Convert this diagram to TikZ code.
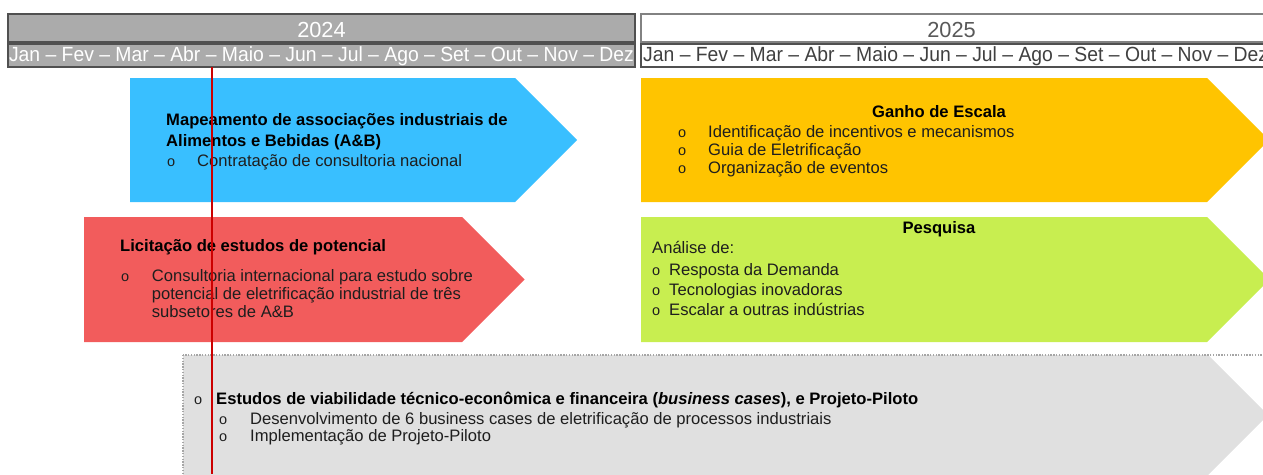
\documentclass[tikz,border=0pt]{standalone}
\usepackage{fontspec}
\setmainfont{Liberation Sans}
\newfontfamily\monthfont[FakeStretch=0.944]{Liberation Sans}
\definecolor{hdrgray}{RGB}{171,171,171}
\definecolor{hdrborder}{RGB}{80,80,80}
\definecolor{yrborder}{RGB}{130,130,130}
\definecolor{yrtext}{RGB}{89,89,89}
\definecolor{mtext}{RGB}{64,64,64}
\definecolor{cblue}{RGB}{57,191,255}
\definecolor{cred}{RGB}{242,92,92}
\definecolor{cyellow}{RGB}{255,196,0}
\definecolor{cgreen}{RGB}{200,238,80}
\definecolor{cgray}{RGB}{224,224,224}
\definecolor{dotgray}{RGB}{166,166,166}
\definecolor{bodytext}{RGB}{30,30,30}
\definecolor{markred}{RGB}{204,0,0}
\begin{document}
\begin{tikzpicture}[x=1pt,y=-1pt,
  yeartxt/.style={anchor=base,inner sep=0pt,font=\fontsize{21.8}{22}\selectfont},
  monthtxt/.style={inner sep=0pt,font=\monthfont\fontsize{20.5}{21}\selectfont},
  body/.style={anchor=base west,inner sep=0pt,text=bodytext,font=\fontsize{16.6}{19}\selectfont},
  title/.style={anchor=base west,inner sep=0pt,text=black,font=\fontsize{16.6}{19}\selectfont\bfseries},
  ctitle/.style={title,anchor=base},
  bul/.style={anchor=base west,inner sep=0pt,text=bodytext,font=\fontsize{14.5}{15}\selectfont},
  marker/.style={draw=markred,line width=2pt}
]
\useasboundingbox (0,0) rectangle (1263,474);
\clip (0,0) rectangle (1263,474);

% ---------- header 2024 ----------
\draw[draw=hdrborder,fill=hdrgray,line width=1.2pt] (8,14) rectangle (635,42);
\node[yeartxt,text=white] (y2024) at (321.5,37.3) {2024};
\draw[draw=hdrborder,fill=hdrgray,line width=1.2pt] (8,44) rectangle (635,67);
\node[monthtxt,anchor=base,text=white] (m2024) at (321.5,61.7) {Jan – Fev – Mar – Abr – Maio – Jun – Jul – Ago – Set – Out – Nov – Dez};

% ---------- header 2025 ----------
\draw[draw=yrborder,fill=white,line width=1.2pt] (641,14) rectangle (1275,42);
\node[yeartxt,text=yrtext] (y2025) at (951.5,37.3) {2025};
\draw[draw=hdrborder,fill=white,line width=1.2pt] (641,44) rectangle (1275,67);
\node[monthtxt,anchor=base west,text=mtext] (m2025) at (643,61.7) {Jan – Fev – Mar – Abr – Maio – Jun – Jul – Ago – Set – Out – Nov – Dez};

% ---------- chevrons ----------
\fill[cblue]   (130,78)  -- (515,78)  -- (577,140)    -- (515,202)  -- (130,202) -- cycle;
\fill[cred]    (84,217)  -- (462,217) -- (524.5,279.5) -- (462,342) -- (84,342)  -- cycle;
\fill[cyellow] (641,78)  -- (1207,78) -- (1269,140)   -- (1207,202) -- (641,202) -- cycle;
\fill[cgreen]  (641,217) -- (1207,217) -- (1269.5,279.5) -- (1207,342) -- (641,342) -- cycle;
\fill[cgray]   (183,355) -- (1208,355) -- (1268,415)  -- (1208,475) -- (183,475) -- cycle;
\draw[dotgray,line width=1.4pt,dash pattern=on 1.4pt off 1.4pt] (183,355) rectangle (1290,500);

% ---------- blue ----------
\node[title] (b1) at (166,125.7) {Mapeamento de associações industriais de};
\node[title] (b2) at (166,146) {Alimentos e Bebidas (A\&B)};
\node[bul] (bb1) at (167,166.7) {o};
\node[body] (bt1) at (197,166.7) {Contratação de consultoria nacional};

% ---------- red ----------
\node[title] (r1) at (120,251.7) {Licitação de estudos de potencial};
\node[bul] (rb1) at (121,281.2) {o};
\node[body] (rt1) at (151.7,281.7) {Consultoria internacional para estudo sobre};
\node[body] (rt2) at (151.7,299.5) {potencial de eletrificação industrial de três};
\node[body] (rt3) at (151.7,317.3) {subsetores de A\&B};

% ---------- yellow ----------
\node[ctitle] (g1) at (939,117.7) {Ganho de Escala};
\node[bul] (gb1) at (678,137.3) {o};
\node[body] (gt1) at (708,137.3) {Identificação de incentivos e mecanismos};
\node[bul] (gb2) at (678,155.7) {o};
\node[body] (gt2) at (708,155.7) {Guia de Eletrificação};
\node[bul] (gb3) at (678,173.3) {o};
\node[body] (gt3) at (708,173.3) {Organização de eventos};

% ---------- green ----------
\node[ctitle] (p1) at (939,233.3) {Pesquisa};
\node[body] (p2) at (652,253.3) {Análise de:};
\node[bul] (pb1) at (652,275) {o};
\node[body] (pt1) at (669,275) {Resposta da Demanda};
\node[bul] (pb2) at (652,295.7) {o};
\node[body] (pt2) at (669,295.7) {Tecnologias inovadoras};
\node[bul] (pb3) at (652,315.7) {o};
\node[body] (pt3) at (669,315.7) {Escalar a outras indústrias};

% ---------- gray ----------
\node[bul] (eb0) at (194,404) {o};
\node[title] (e1) at (216,404) {Estudos de viabilidade técnico-econômica e financeira (\textit{business cases}), e Projeto-Piloto};
\node[bul] (eb1) at (219,424) {o};
\node[body] (et1) at (250,424) {Desenvolvimento de 6 business cases de eletrificação de processos industriais};
\node[bul] (eb2) at (219,441.7) {o};
\node[body] (et2) at (250,441.7) {Implementação de Projeto-Piloto};

% ---------- today marker ----------
\coordinate (marktop) at (212,67);
\coordinate (markbot) at (212,474);
\draw[marker] (marktop) -- (markbot);
\end{tikzpicture}
\end{document}
